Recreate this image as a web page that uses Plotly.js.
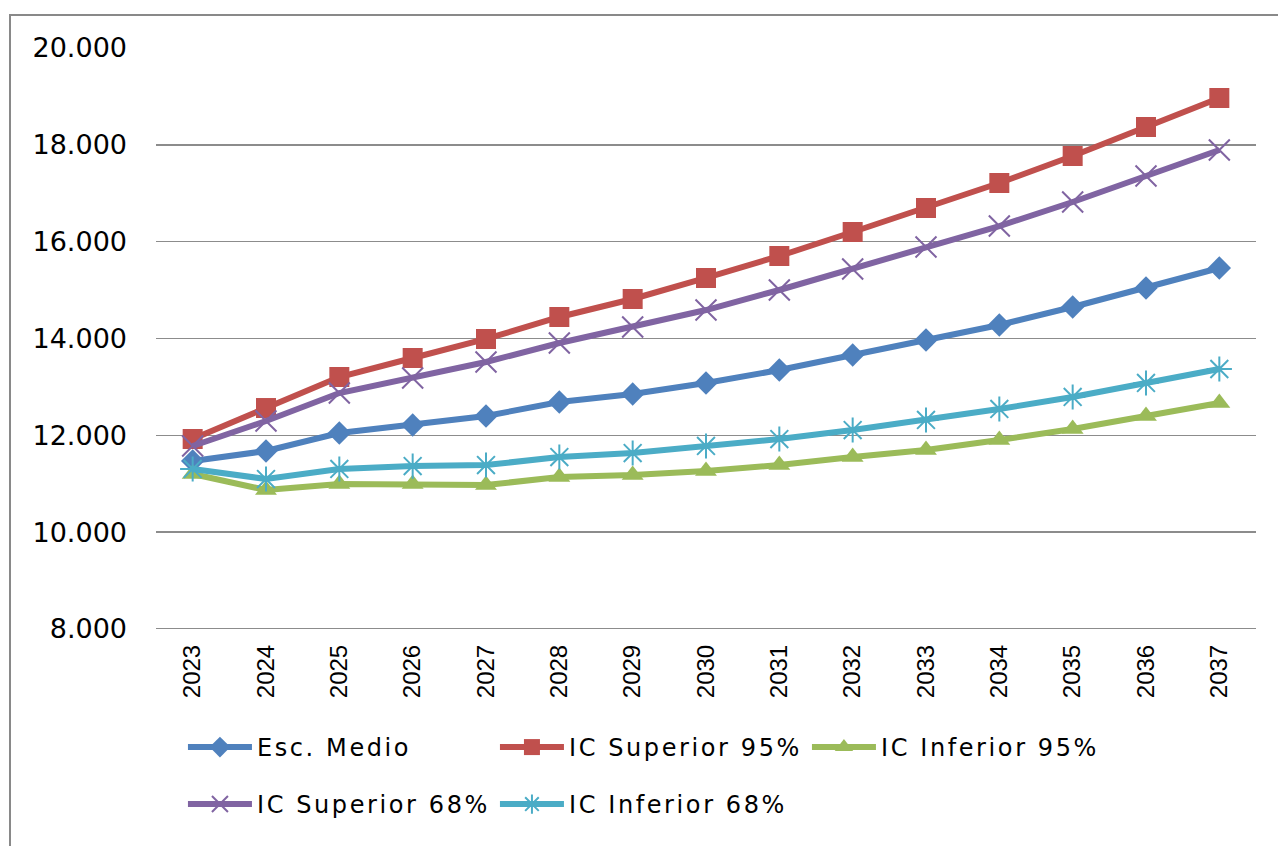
<!DOCTYPE html>
<html>
<head>
<meta charset="utf-8">
<script src="https://cdn.plot.ly/plotly-3.0.1.min.js"></script>
<style>
html,body{margin:0;padding:0;background:#fff;}
#wrap{position:relative;width:1278px;height:846px;overflow:hidden;}
#chart{position:absolute;left:0;top:0;width:1278px;height:846px;}
#frame{position:absolute;left:9px;top:14px;width:1400px;height:1000px;border-left:2px solid #898989;border-top:2px solid #898989;pointer-events:none;}
text.legendtext, text.legend2text{letter-spacing:2.6px !important;}
</style>
</head>
<body>
<div id="wrap"><div id="chart"></div><div id="frame"></div></div>
<script>
const years = ['2023','2024','2025','2026','2027','2028','2029','2030','2031','2032','2033','2034','2035','2036','2037'];
const escMedio = [11470,11676,12048,12213,12399,12688,12853,13081,13349,13659,13969,14279,14650,15043,15456];
const icSup95 = [11924,12564,13205,13597,13990,14444,14816,15250,15704,16200,16695,17212,17769,18368,18967];
const icInf95 = [11201,10871,10995,10995,10974,11139,11181,11263,11387,11552,11697,11904,12131,12399,12668];
const icSup68 = [11780,12296,12874,13184,13515,13907,14237,14588,15002,15435,15890,16323,16819,17356,17893];
const icInf68 = [11305,11098,11305,11366,11387,11552,11635,11780,11924,12110,12317,12544,12792,13081,13370];
const names = ['Esc. Medio','IC Superior 95%','IC Inferior 95%','IC Superior 68%','IC Inferior 68%'];
const yTicks = [8000,10000,12000,14000,16000,18000,20000];

const colors = ['#4F81BD','#C0504D','#9BBB59','#8064A2','#4BACC6'];
const series = [escMedio, icSup95, icInf95, icSup68, icInf68];
const legendOf = ['legend','legend','legend','legend2','legend2'];
const markers = [
  {symbol:'diamond', size:18},
  {symbol:'square', size:20},
  {symbol:'triangle-up', size:19},
  {symbol:'x-thin-open', size:21, line:{width:2}},
  {symbol:'asterisk-open', size:21, line:{width:2}}
];
const traces = series.map((s,i)=>{
  const m = Object.assign({color:colors[i]}, markers[i]);
  if (m.line) m.line.color = colors[i];
  return {x: years, y: s, name: names[i], type:'scatter', mode:'lines+markers',
    legend: legendOf[i],
    line:{color:colors[i], width:6}, marker:m};
});

const legFont = {family:'DejaVu Sans', size:24, color:'#000'};
const layout = {
  width:1278, height:846,
  margin:{l:156, r:22, t:48, b:217},
  paper_bgcolor:'#fff', plot_bgcolor:'#fff',
  separators:',.',
  showlegend:true,
  xaxis:{type:'category', range:[-0.5,14.5], tickangle:-90,
    tickfont:{family:'Liberation Sans, Arial', size:24, color:'#000'},
    showgrid:false, zeroline:false, showline:false, ticks:'', ticklabelstandoff:10},
  yaxis:{range:[8000,20000], tickvals:yTicks, tickformat:',.0f',
    tickfont:{family:'DejaVu Sans', size:27, color:'#000'},
    showgrid:true, gridcolor:'#8c8c8c', gridwidth:1.5, zeroline:false, showline:false,
    ticks:'', ticklabelstandoff:28},
  legend:{orientation:'h', x:0.0245, xanchor:'left', y:-0.1652, yanchor:'top',
    font:legFont, itemwidth:64, entrywidth:233, traceorder:'normal', bgcolor:'rgba(0,0,0,0)'},
  legend2:{orientation:'h', x:0.0245, xanchor:'left', y:-0.2633, yanchor:'top',
    font:legFont, itemwidth:64, entrywidth:233, traceorder:'normal', bgcolor:'rgba(0,0,0,0)'},
  shapes:[{type:'line', xref:'paper', yref:'y', x0:0, x1:1, y0:8000, y1:8000, line:{color:'#8c8c8c', width:2}}]
};
function spaceLegend(){
  document.querySelectorAll('#chart text.legendtext, #chart text.legend2text').forEach(t=>{
    t.style.letterSpacing = '2.6px';
  });
}
Plotly.newPlot('chart', traces, layout, {displayModeBar:false, staticPlot:true}).then(spaceLegend);
</script>
</body>
</html>
